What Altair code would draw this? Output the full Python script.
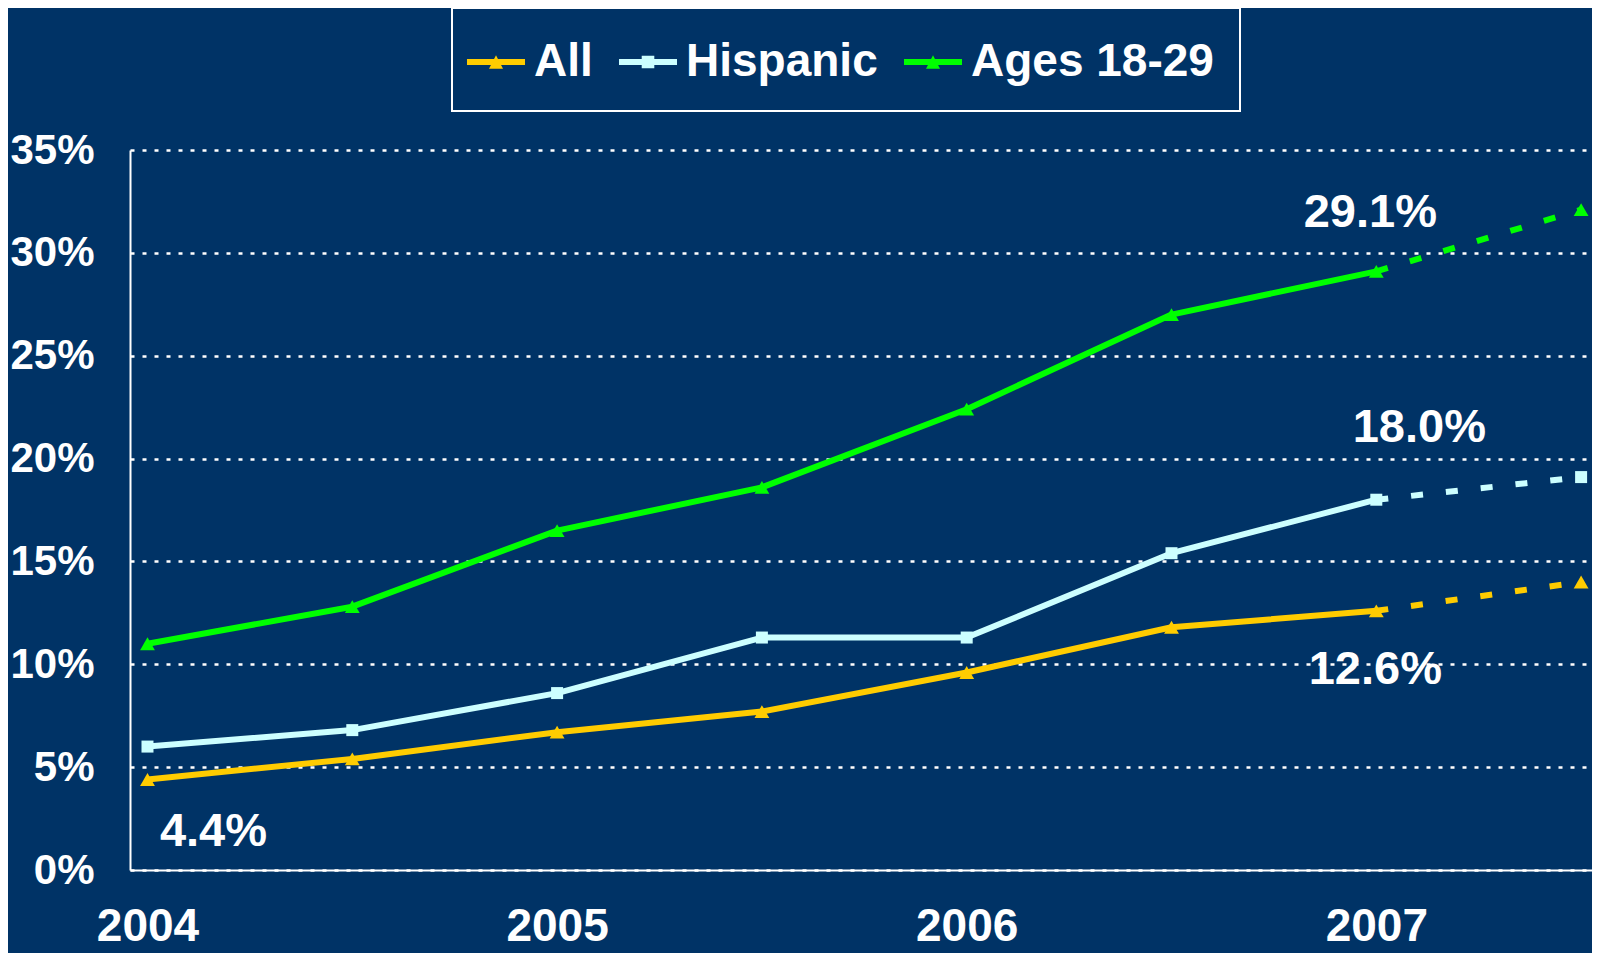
import altair as alt
import pandas as pd

# ---------------- data ----------------
years = [2004.0, 2004.5, 2005.0, 2005.5, 2006.0, 2006.5, 2007.0, 2007.5]
series_names = ["All", "Hispanic", "Ages 18-29"]
all_values = [4.4, 5.4, 6.7, 7.7, 9.6, 11.8, 12.6, 14.0]
hispanic_values = [6.0, 6.8, 8.6, 11.3, 11.3, 15.4, 18.0, 19.1]
ages_values = [11.0, 12.8, 16.5, 18.6, 22.4, 27.0, 29.1, 32.1]
year_ticks = [2004, 2005, 2006, 2007]
pct_ticks = [0, 5, 10, 15, 20, 25, 30, 35]
last_actual_year = 2007.0
labelled_points = [("Ages 18-29", 2007.0), ("Hispanic", 2007.0), ("All", 2007.0), ("All", 2004.0)]

# ---------------- styles ----------------
NAVY = "#003366"
FONT = "Liberation Sans"
series_colors = ["#FFCC00", "#CCFFFF", "#00FF00"]
label_offsets = [(-6, -58), (43, -72), (-1, 59), (66, 53)]

rows = []
for name, vals in zip(series_names, [all_values, hispanic_values, ages_values]):
    for yr, v in zip(years, vals):
        rows.append({"series": name, "year": yr, "value": v})
df = pd.DataFrame(rows)

# legend scales (color/shape) keep the legend order; the mark scales (stroke/fill)
# list the same mapping in reverse so their (hidden) legends are not merged with it
legend_color_scale = alt.Scale(domain=series_names, range=series_colors)
mark_color_scale = alt.Scale(domain=series_names[::-1], range=series_colors[::-1])

x_enc = alt.X(
    "year:Q",
    scale=alt.Scale(domain=[2003.9573, 2007.5266], nice=False, zero=False),
    axis=alt.Axis(
        values=year_ticks, format="d", title=None, grid=False, ticks=False, tickSize=0,
        labelFontSize=46, labelPadding=70, labelBaseline="alphabetic",
        labelFlush=False, labelOverlap=False,
    ),
)
y_enc = alt.Y(
    "value:Q",
    scale=alt.Scale(domain=[0, 35], nice=False, zero=True),
    axis=alt.Axis(
        values=pct_ticks, labelExpr="datum.value + '%'", title=None, ticks=False, tickSize=0,
        labelFontSize=42, labelPadding=36, grid=True, gridColor="white",
        gridDash=[4, 8], gridWidth=2.5, gridOpacity=1,
    ),
)

base = alt.Chart(df).encode(x=x_enc, y=y_enc, detail="series:N", order="year:Q")

solid = base.transform_filter(alt.datum.year <= last_actual_year).mark_line(
    strokeWidth=6, strokeJoin="round"
).encode(stroke=alt.Stroke("series:N", scale=mark_color_scale, legend=None))

dashed = base.transform_filter(alt.datum.year >= last_actual_year).mark_line(
    strokeWidth=6, strokeDash=[12, 23]
).encode(stroke=alt.Stroke("series:N", scale=mark_color_scale, legend=None))

markers = base.mark_point(filled=True, opacity=1, strokeWidth=0).encode(
    fill=alt.Fill("series:N", scale=mark_color_scale, legend=None),
    shape=alt.condition("datum.series === 'Hispanic'", alt.value("square"), alt.value("triangle-up")),
    size=alt.condition("datum.series === 'Hispanic'", alt.value(144), alt.value(220)),
)

text_layers = []
for (s, yr), (dx, dy) in zip(labelled_points, label_offsets):
    t = (
        base.transform_filter((alt.datum.series == s) & (alt.datum.year == yr))
        .transform_calculate(label="format(datum.value, '.1f') + '%'")
        .mark_text(dx=dx, dy=dy, fontSize=47, fontWeight="bold", font=FONT,
                   align="center", baseline="middle", color="white")
        .encode(text="label:N")
    )
    text_layers.append(t)

# legend symbols: a short line with the series marker (custom paths, r = 28 px)
line_part = "M-1.393,-0.107L0.679,-0.107L0.679,0.107L-1.393,0.107Z"
tri_path = line_part + "M-0.607,0.24L-0.357,-0.24L-0.107,0.24Z"
sq_path = line_part + "M-0.582,-0.225L-0.132,-0.225L-0.132,0.225L-0.582,0.225Z"

legend_def = alt.Legend(
    title=None, orient="none", legendX=322, legendY=-142, direction="horizontal",
    fillColor=NAVY, strokeColor="white", padding=26,
    labelFont=FONT, labelFontSize=46, labelFontWeight="bold", labelColor="white",
    labelOffset=0, labelLimit=500, columnPadding=25,
    symbolSize=3136, symbolStrokeWidth=0,
)
legend_df = pd.DataFrame({"series": series_names})
legend_layer = alt.Chart(legend_df).mark_point(filled=True, opacity=1, strokeWidth=0).encode(
    x=alt.value(-3000),
    y=alt.value(-3000),
    color=alt.Color("series:N", scale=legend_color_scale, legend=legend_def),
    shape=alt.Shape("series:N", scale=alt.Scale(domain=series_names, range=[tri_path, sq_path, tri_path]),
                    legend=legend_def),
)

chart = (
    alt.layer(legend_layer, solid, dashed, markers, *text_layers)
    .properties(
        width=1462, height=720, background=NAVY,
        padding={"left": 122, "top": 142, "right": 0, "bottom": 83},
        autosize=alt.AutoSizeParams(type="none"),
    )
    .configure_view(strokeWidth=0)
    .configure_axis(domainColor="white", domainWidth=2, labelColor="white",
                    labelFont=FONT, labelFontWeight="bold")
    .configure_legend(strokeWidth=2)
)

chart.save("out.html", embed_options={"renderer": "svg", "actions": False})
